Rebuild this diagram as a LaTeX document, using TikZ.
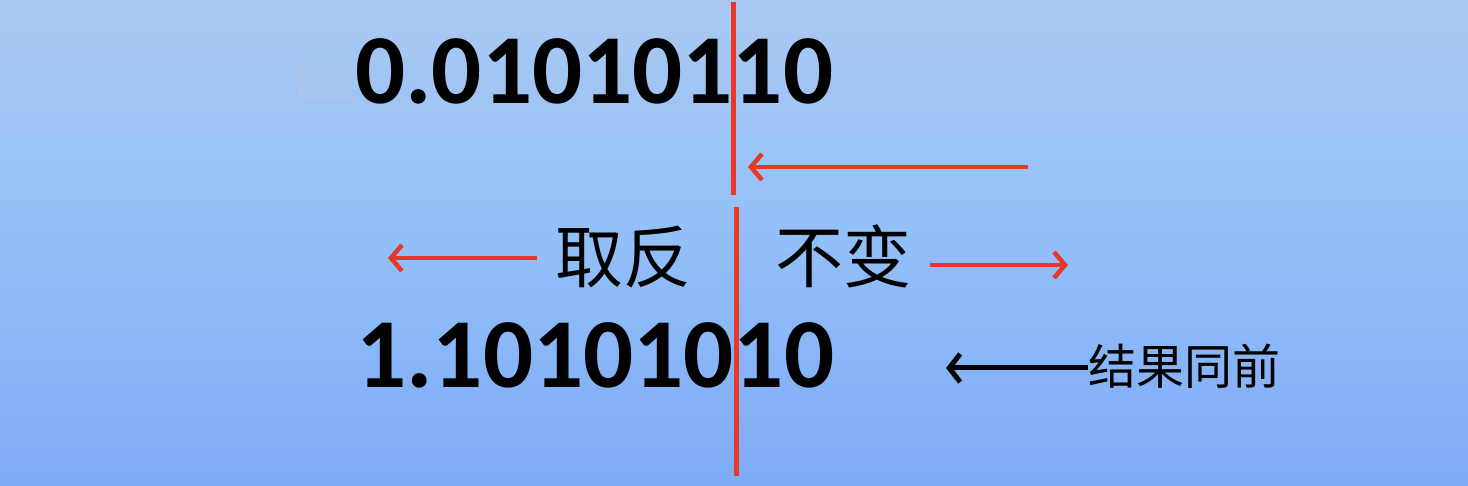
\documentclass[tikz,border=0pt]{standalone}
\usepackage{fontspec}
\usetikzlibrary{arrows.meta}
\newfontfamily\numfont{Carlito}
\newfontfamily\cjk{Noto Sans CJK SC}
\definecolor{bgtop}{RGB}{169,201,242}
\definecolor{bgmid}{RGB}{146,191,248}
\definecolor{bgbot}{RGB}{126,171,246}
\definecolor{redline}{RGB}{232,56,40}
\definecolor{patch}{RGB}{170,198,240}
\tikzset{
  num/.style={font=\numfont\bfseries\fontsize{99}{99}\selectfont, inner sep=0pt, anchor=base west},
  cjkbig/.style={font=\cjk\fontsize{68}{68}\selectfont, inner sep=0pt, anchor=base west},
  cjksmall/.style={font=\cjk\fontsize{48}{48}\selectfont, inner sep=0pt, anchor=base west},
  redarrow/.style={draw=redline, line width=4.5pt, -{Straight Barb[length=11pt,width=26pt,line width=4.5pt]}},
  blackarrow/.style={draw=black, line width=5pt, -{Straight Barb[length=11pt,width=28pt,line width=5pt]}},
  divider/.style={draw=redline, line width=5pt}
}
\begin{document}
\begin{tikzpicture}[x=1pt,y=1pt]
\useasboundingbox (0,0) rectangle (1468,486);
\shade[top color=bgtop, bottom color=bgbot, middle color=bgmid] (0,0) rectangle (1468,486);
\fill[patch] (298,388) rectangle (352,424);
\node[num] (top) at (355,382) {0.01010110};
\node[num] (bot) at (356,98) {1.10101010};
\node[cjkbig] (neg) at (555,203) {取反};
\node[cjkbig] (keep) at (775,203) {不变};
\node[cjksmall] (same) at (1088,101) {结果同前};
\coordinate (l1a) at (733,484);
\coordinate (l1b) at (733,291);
\coordinate (l2a) at (736,279);
\coordinate (l2b) at (736,10);
\draw[divider] (l1a) -- (l1b);
\draw[divider] (l2a) -- (l2b);
\coordinate (ta) at (1028,319);
\coordinate (tb) at (748,319);
\draw[redarrow] (ta) -- (tb);
\coordinate (la) at (537,228);
\draw[redarrow] (la) -- (388,228);
\coordinate (ra) at (930,221);
\coordinate (rb) at (1068,221);
\draw[redarrow] (ra) -- (rb);
\coordinate (bb) at (946,118);
\draw[blackarrow] (same.west |- bb) -- (bb);
\end{tikzpicture}
\end{document}
